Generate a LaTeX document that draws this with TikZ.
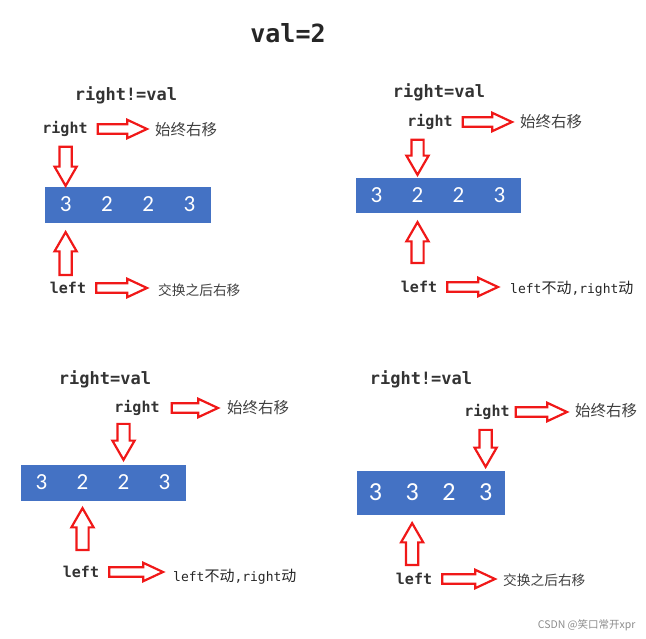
\documentclass[tikz,border=0pt]{standalone}
\usepackage{fontspec}
\setmainfont{DejaVu Sans Mono}
\newfontfamily\cjk{Noto Sans CJK SC}
\newfontfamily\numfont{Carlito}
\usetikzlibrary{shapes.arrows,calc}
\definecolor{boxblue}{HTML}{4472C4}
\definecolor{arrred}{HTML}{F01818}

\begin{document}
\begin{tikzpicture}[x=1pt,y=-1pt,
  cond/.style={font=\fontsize{17}{20}\selectfont\bfseries,text=black!80},
  ptr/.style={font=\fontsize{15}{18}\selectfont\bfseries,text=black!80,inner sep=1pt},
  note/.style={font=\cjk\fontsize{15.5}{18}\selectfont,text=black!75,anchor=west,inner sep=0pt},
  swapnote/.style={note,font=\cjk\fontsize{13.7}{16}\selectfont},
  mixed/.style={font=\fontsize{13}{15}\selectfont,text=black!85,anchor=west,inner sep=0pt},
  cell/.style={fill=boxblue,draw=boxblue,line width=0.3pt,text=white,inner sep=0pt,
    font=\numfont\fontsize{23}{26}\selectfont,minimum width=41.25pt,minimum height=35pt},
  harr/.style={single arrow,single arrow head extend=4.5pt,single arrow tip angle=50,inner sep=3.6pt},
  varr/.style={single arrow,single arrow head extend=5pt,single arrow tip angle=60,inner sep=5pt},
  hollow/.style n args={3}{to path={
    let \p1=($(\tikztostart)!#2!(\tikztotarget)$),
        \p2=($(\tikztotarget)!#3!(\tikztostart)$),
        \p3=($(\p2)-(\p1)$),
        \n1={veclen(\x3,\y3)},
        \n2={atan2(\y3,\x3)}
    in node[#1,draw=arrred,fill=white,line width=2.2pt,outer sep=0pt,minimum width=0pt,
      minimum height=\n1,rotate=\n2,anchor=tail] at (\p1) {}}}]
\useasboundingbox (0,0) rectangle (646,639);

\node[font=\fontsize{25}{30}\selectfont\bfseries,text=black!85] (ttl) at (288,33) {val=2};

% step 1
\node[cond] (c1) at (126,95) {right!=val};
\node[ptr] (r1) at (65,129) {right};
\node[note] (m1) at (155,130) {始终右移};
\foreach \v [count=\i] in {3,2,2,3}
  \node[cell] (s1c\i) at ({45+41.25*(\i-0.5)},204.5) {\v};
\node[ptr] (l1) at (68,288) {left};
\node[swapnote] (m1b) at (158,290) {交换之后右移};
\path (r1.east) to[hollow={harr}{9pt}{8pt}] (r1.east -| m1.west);
\path (r1.south -| s1c1.north) to[hollow={varr}{9pt}{1pt}] (s1c1.north);
\path (l1.north -| s1c1.south) to[hollow={varr}{6pt}{10pt}] (s1c1.south);
\path (l1.east) to[hollow={harr}{9pt}{11pt}] (l1.east -| m1b.west);

% step 2
\node[cond] (c2) at (439,92) {right=val};
\node[ptr] (r2) at (430,122) {right};
\node[note] (m2) at (520,122) {始终右移};
\foreach \v [count=\i] in {3,2,2,3}
  \node[cell,minimum width=41pt,minimum height=34pt] (s2c\i) at ({356+41*(\i-0.5)},195) {\v};
\node[ptr] (l2) at (419,287) {left};
\node[mixed] (m2b) at (510,289) {left{\cjk\fontsize{15}{17}\selectfont 不动},right{\cjk\fontsize{15}{17}\selectfont 动}};
\path (r2.east) to[hollow={harr}{9pt}{8pt}] (r2.east -| m2.west);
\path (r2.south -| s2c2.north) to[hollow={varr}{9pt}{3pt}] (s2c2.north);
\path (l2.north -| s2c2.south) to[hollow={varr}{17pt}{10pt}] (s2c2.south);
\path (l2.east) to[hollow={harr}{9pt}{12pt}] (l2.east -| m2b.west);

% step 3
\node[cond] (c3) at (105,379) {right=val};
\node[ptr] (r3) at (137,408) {right};
\node[note] (m3) at (227,408) {始终右移};
\foreach \v [count=\i] in {3,2,2,3}
  \node[cell,minimum width=41pt] (s3c\i) at ({21+41*(\i-0.5)},482.5) {\v};
\node[ptr] (l3) at (81,572) {left};
\node[mixed] (m3b) at (173,577) {left{\cjk\fontsize{15}{17}\selectfont 不动},right{\cjk\fontsize{15}{17}\selectfont 动}};
\path (r3.east) to[hollow={harr}{11pt}{9pt}] (r3.east -| m3.west);
\path (r3.south -| s3c3.north) to[hollow={varr}{7pt}{5pt}] (s3c3.north);
\path (l3.north -| s3c2.south) to[hollow={varr}{15pt}{8pt}] (s3c2.south);
\path (l3.east) to[hollow={harr}{9pt}{10pt}] (l3.east -| m3b.west);

% step 4
\node[cond] (c4) at (421,379) {right!=val};
\node[ptr] (r4) at (487,412) {right};
\node[note] (m4) at (575,411) {始终右移};
\foreach \v [count=\i] in {3,3,2,3}
  \node[cell,minimum width=36.75pt,minimum height=43pt,font=\numfont\fontsize{26}{30}\selectfont]
    (s4c\i) at ({357+36.75*(\i-0.5)},492.5) {\v};
\node[ptr] (l4) at (414,579) {left};
\node[swapnote] (m4b) at (503,580) {交换之后右移};
\path (r4.east) to[hollow={harr}{5pt}{8pt}] (r4.east -| m4.west);
\path (r4.south -| s4c4.north) to[hollow={varr}{9pt}{4pt}] (s4c4.north);
\path (l4.north -| s4c2.south) to[hollow={varr}{7pt}{9pt}] (s4c2.south);
\path (l4.east) to[hollow={harr}{9pt}{8pt}] (l4.east -| m4b.west);

\node[font=\cjk\fontsize{10.5}{12}\selectfont,text=black!45,anchor=east] (wm) at (639,625) {CSDN @笑口常开xpr};
\end{tikzpicture}
\end{document}
